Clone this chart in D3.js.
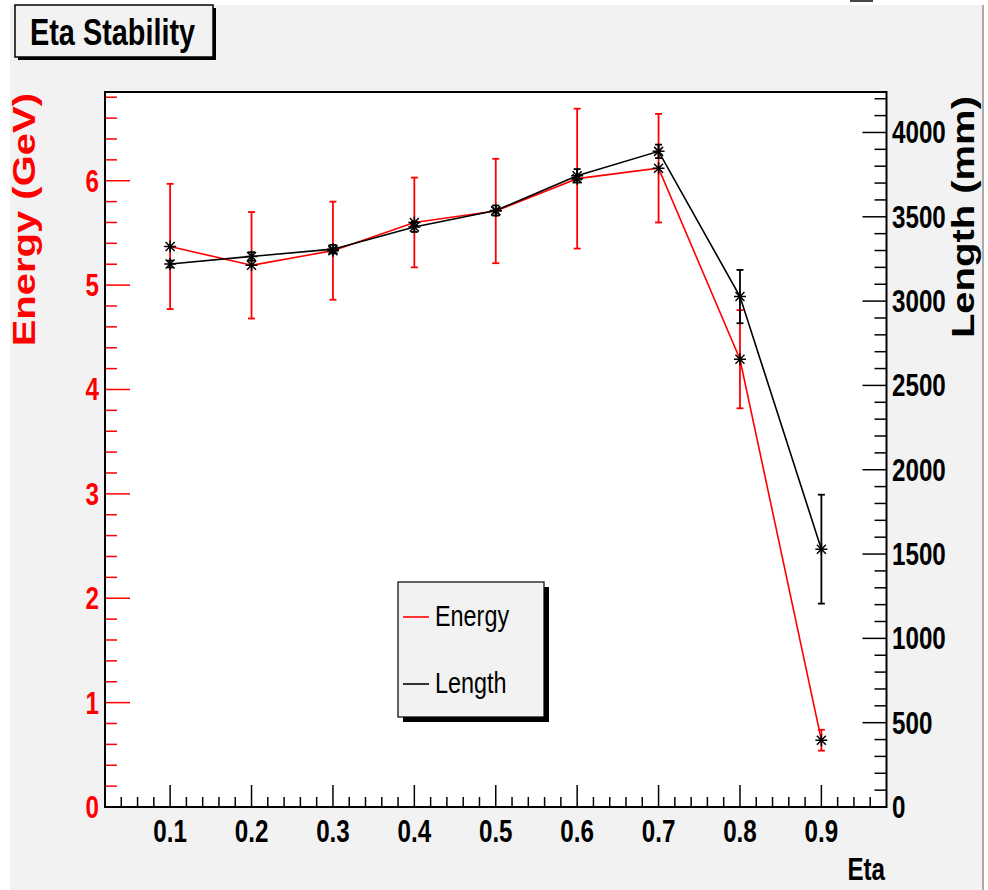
<!DOCTYPE html>
<html>
<head>
<meta charset="utf-8">
<script src="https://cdn.jsdelivr.net/npm/d3@7"></script>
<style>
  body { margin: 0; background: #fff; }
  text { font-family: "Liberation Sans", Arial, sans-serif; }
</style>
</head>
<body>
<svg class="chart" width="988" height="890"></svg>
<script>
// values
const eta = [0.1, 0.2, 0.3, 0.4, 0.5, 0.6, 0.7, 0.8, 0.9]
const energy = [5.37, 5.19, 5.33, 5.60, 5.71, 6.02, 6.12, 4.29, 0.64]
const energyErr = [0.60, 0.51, 0.47, 0.43, 0.50, 0.67, 0.52, 0.47, 0.10]
const length = [3220, 3265, 3308, 3440, 3537, 3743, 3888, 3027, 1529]
const lengthErr = [20, 25, 25, 30, 30, 40, 40, 158, 323]

const xTicks = [0.1, 0.2, 0.3, 0.4, 0.5, 0.6, 0.7, 0.8, 0.9]
const energyTicks = [0, 1, 2, 3, 4, 5, 6]
const lengthTicks = [0, 500, 1000, 1500, 2000, 2500, 3000, 3500, 4000]

const squish = 0.78 // the original picture is squeezed horizontally

var svg = d3.select(".chart")
var frame = {left: 105, right: 886.5, top: 92, bottom: 807}

// canvas background
svg.append("rect")
    .attr("x", 10).attr("y", 5)
    .attr("width", 973).attr("height", 885)
    .attr("fill", "#f2f2f2")
svg.append("line")
    .attr("x1", 983).attr("x2", 983).attr("y1", 5).attr("y2", 890)
    .attr("stroke", "#aaa").attr("stroke-width", 2)
svg.append("rect")
    .attr("x", 850).attr("y", 0).attr("width", 23).attr("height", 2)
    .attr("fill", "#444")

var xScale = d3.scaleLinear().domain([0.02, 0.98]).range([frame.left, frame.right])
var yLeft = d3.scaleLinear().domain([0, 6.85]).range([frame.bottom, frame.top])
var yRight = d3.scaleLinear().domain([0, 4240]).range([frame.bottom, frame.top])

function label(x, y, str, opts) {
    var t = svg.append("text")
        .attr("transform", `translate(${x},${y}) scale(${squish},1)`)
        .attr("font-size", opts.size)
        .attr("font-weight", opts.weight || "bold")
        .attr("fill", opts.color || "#000")
        .attr("text-anchor", opts.anchor || "start")
        .text(str)
    return t
}

function vlabel(x, y, str, opts) {
    // rotated: screen x is the glyph height, so squeeze that direction
    svg.append("text")
        .attr("transform", `translate(${x},${y}) rotate(-90) scale(1,${squish})`)
        .attr("font-size", opts.size)
        .attr("font-weight", "bold")
        .attr("fill", opts.color)
        .attr("text-anchor", "end")
        .text(str)
}

// plot area
svg.append("rect")
    .attr("x", frame.left).attr("y", frame.top)
    .attr("width", frame.right - frame.left).attr("height", frame.bottom - frame.top)
    .attr("fill", "#fff")

// x axis ticks (inside, pointing up)
d3.range(0.04, 0.97, 0.02).forEach(v => {
    var major = xTicks.some(t => Math.abs(t - v) < 1e-6)
    svg.append("line")
        .attr("x1", xScale(v)).attr("x2", xScale(v))
        .attr("y1", frame.bottom).attr("y2", frame.bottom - (major ? 22 : 10))
        .attr("stroke", "#000").attr("stroke-width", 1.5)
})
xTicks.forEach(v => {
    label(xScale(v), 842, d3.format(".1f")(v), {size: 31, anchor: "middle"})
})
label(885, 880, "Eta", {size: 31, anchor: "end"})

// left axis (energy), red ticks
d3.range(0.2, 6.81, 0.2).forEach(v => {
    var major = energyTicks.some(t => Math.abs(t - v) < 1e-6)
    svg.append("line")
        .attr("x1", frame.left).attr("x2", frame.left + (major ? 25 : 12))
        .attr("y1", yLeft(v)).attr("y2", yLeft(v))
        .attr("stroke", "#ff0000").attr("stroke-width", 1.5)
})
energyTicks.forEach(v => {
    label(99, yLeft(v) + 11, v, {size: 31, anchor: "end", color: "#ff0000"})
})
vlabel(35, 93, "Energy (GeV)", {size: 40, color: "#ff0000"})

// right axis (length)
d3.range(100, 4201, 100).forEach(v => {
    var major = lengthTicks.includes(v)
    svg.append("line")
        .attr("x1", frame.right).attr("x2", frame.right - (major ? 24 : 12))
        .attr("y1", yRight(v)).attr("y2", yRight(v))
        .attr("stroke", "#000").attr("stroke-width", 1.5)
})
lengthTicks.forEach(v => {
    label(892, yRight(v) + 11, v, {size: 31})
})
vlabel(974, 96, "Length (mm)", {size: 40, color: "#000"})

// frame
svg.append("rect")
    .attr("x", frame.left).attr("y", frame.top)
    .attr("width", frame.right - frame.left).attr("height", frame.bottom - frame.top)
    .attr("fill", "none").attr("stroke", "#000").attr("stroke-width", 2)

const energyData = eta.map((e, i) => ({x: e, y: energy[i], err: energyErr[i]}))
const lengthData = eta.map((e, i) => ({x: e, y: length[i], err: lengthErr[i]}))

function drawSeries(data, yScale, color) {
    var line = d3.line()
        .x(d => xScale(d.x))
        .y(d => yScale(d.y))

    var bars = svg.append("g")
    data.forEach(d => {
        var x = xScale(d.x)
        var y0 = yScale(d.y - d.err), y1 = yScale(d.y + d.err)
        bars.append("line").attr("x1", x).attr("x2", x).attr("y1", y0).attr("y2", y1)
        bars.append("line").attr("x1", x - 3.5).attr("x2", x + 3.5).attr("y1", y0).attr("y2", y0)
        bars.append("line").attr("x1", x - 3.5).attr("x2", x + 3.5).attr("y1", y1).attr("y2", y1)
    })
    bars.selectAll("line").attr("stroke", color).attr("stroke-width", 1.8)

    svg.append("path")
        .datum(data)
        .attr("d", line)
        .attr("fill", "none")
        .attr("stroke", color)
        .attr("stroke-width", 1.6)

    // asterisk markers (black for both series)
    var marks = svg.append("g")
    data.forEach(d => {
        var x = xScale(d.x), y = yScale(d.y)
        marks.append("path")
            .attr("d", `M${x - 6},${y}H${x + 6}M${x},${y - 6}V${y + 6}` +
                `M${x - 4.5},${y - 4.5}L${x + 4.5},${y + 4.5}M${x - 4.5},${y + 4.5}L${x + 4.5},${y - 4.5}`)
            .attr("stroke", "#000").attr("stroke-width", 1.5).attr("fill", "none")
    })
}

drawSeries(energyData, yLeft, "#ff0000")
drawSeries(lengthData, yRight, "#000")

// legend
svg.append("rect")
    .attr("x", 403).attr("y", 587).attr("width", 146).attr("height", 135)
    .attr("fill", "#000")
svg.append("rect")
    .attr("x", 398).attr("y", 582).attr("width", 146).attr("height", 135)
    .attr("fill", "#f2f2f2").attr("stroke", "#000").attr("stroke-width", 1.2)
svg.append("line").attr("x1", 403).attr("x2", 429).attr("y1", 617).attr("y2", 617)
    .attr("stroke", "#ff0000").attr("stroke-width", 1.6)
svg.append("line").attr("x1", 403).attr("x2", 429).attr("y1", 684).attr("y2", 684)
    .attr("stroke", "#000").attr("stroke-width", 1.6)
label(435, 626, "Energy", {size: 30, weight: "normal"})
label(435, 693, "Length", {size: 30, weight: "normal"})

// title box
svg.append("rect")
    .attr("x", 18).attr("y", 8).attr("width", 198).attr("height", 52)
    .attr("fill", "#000")
svg.append("rect")
    .attr("x", 15).attr("y", 5).attr("width", 198).attr("height", 52)
    .attr("fill", "#f2f2f2").attr("stroke", "#000").attr("stroke-width", 1.5)
label(30, 45, "Eta Stability", {size: 37})
</script>
</body>
</html>
